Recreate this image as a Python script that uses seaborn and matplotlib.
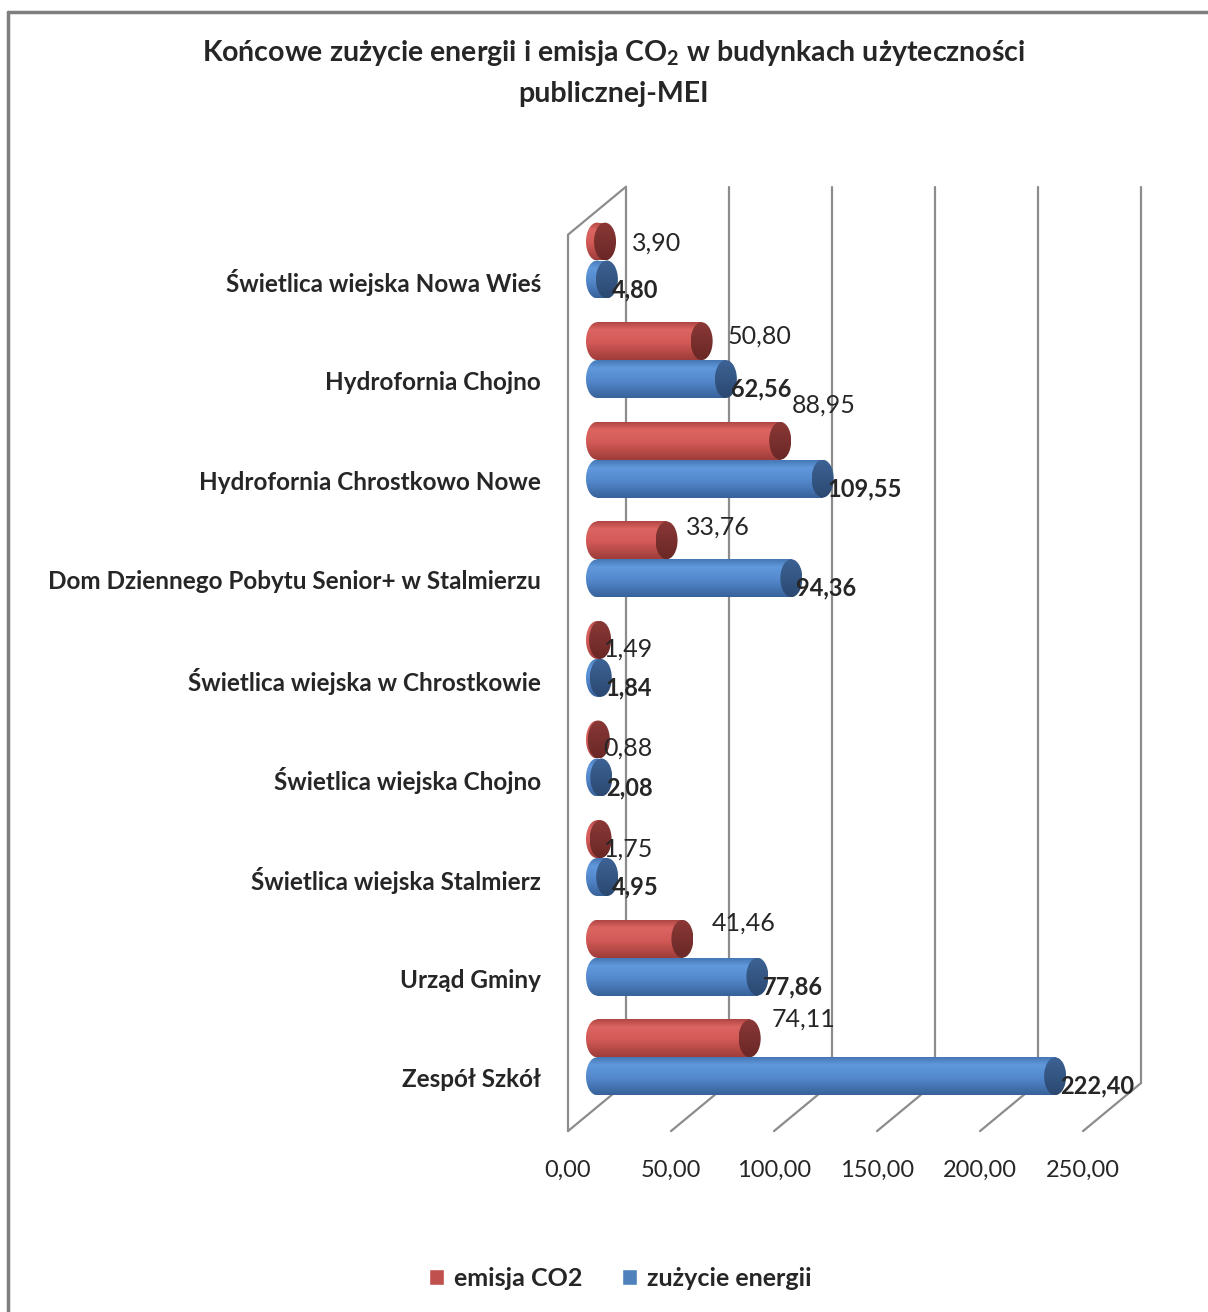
import numpy as np
import pandas as pd
import matplotlib
matplotlib.use('Agg')
import matplotlib.pyplot as plt
import seaborn as sns
from matplotlib.patches import Ellipse, Patch
from matplotlib.colors import LinearSegmentedColormap
from matplotlib.lines import Line2D

# dane
obiekty = ['Świetlica wiejska Nowa Wieś', 'Hydrofornia Chojno',
           'Hydrofornia Chrostkowo Nowe', 'Dom Dziennego Pobytu Senior+ w Stalmierzu',
           'Świetlica wiejska w Chrostkowie', 'Świetlica wiejska Chojno',
           'Świetlica wiejska Stalmierz', 'Urząd Gminy', 'Zespół Szkół']
emisja_co2 = [3.90, 50.80, 88.95, 33.76, 1.49, 0.88, 1.75, 41.46, 74.11]
zuzycie_energii = [4.80, 62.56, 109.55, 94.36, 1.84, 2.08, 4.95, 77.86, 222.40]
serie = ['emisja CO2', 'zużycie energii']
os_x = [0, 50, 100, 150, 200, 250]

df = pd.DataFrame({
    'obiekt': obiekty * 2,
    'seria': [serie[0]] * len(obiekty) + [serie[1]] * len(obiekty),
    'wartosc': emisja_co2 + zuzycie_energii,
})

def fmt(v):
    return f'{v:.2f}'.replace('.', ',')

sns.set_theme(style='white')
plt.rcParams['font.family'] = ['Lato', 'DejaVu Sans']
plt.rcParams['mathtext.fontset'] = 'custom'
plt.rcParams['mathtext.rm'] = 'Lato'
plt.rcParams['mathtext.bf'] = 'Lato:bold'

fig = plt.figure(figsize=(12.08, 13.12), dpi=100)
ax = fig.add_axes([540 / 1208, 1 - 1200 / 1312, 620 / 1208, 1050 / 1312])

sns.barplot(data=df, x='wartosc', y='obiekt', hue='seria', hue_order=serie,
            palette=['#C0504D', '#4F81BD'], orient='h', width=0.76,
            saturation=1, legend=False, errorbar=None, ax=ax)

# skala: px na jednostke
px_x = 2.06
px_y = 99.6
xlim = (-57 / px_x, 563 / px_x)
ylim = ((1200 - 260.5) / px_y, (150 - 260.5) / px_y)
dx = 29 / px_x   # pol glebokosci 3D
dy = 24 / px_y
cap_w = 22 / px_x
grid_c = '#8C8C8C'

# ramka 3D: tylna sciana, podloga, lewa sciana
top, floor = -0.5, len(obiekty) - 0.5
for g in os_x:
    ax.plot([g + dx, g + dx], [top - dy, floor - dy], color=grid_c, lw=1.6, zorder=0)
    ax.plot([g - dx, g + dx], [floor + dy, floor - dy], color=grid_c, lw=1.6, zorder=0)
    ax.annotate(fmt(g), xy=(g - dx, floor + dy), xytext=(0, -39),
                textcoords='offset pixels', ha='center', va='center', fontsize=17)
ax.plot([-dx, -dx], [top + dy, floor + dy], color=grid_c, lw=1.6, zorder=0)
ax.plot([-dx, dx], [top + dy, top - dy], color=grid_c, lw=1.6, zorder=0)

grad = np.linspace(0, 1, 64).reshape(-1, 1)
cm_body = {
    0: LinearSegmentedColormap.from_list('r', [(0, '#B04744'), (0.2, '#DC6562'), (0.55, '#D25956'), (1, '#9E3D3A')]),
    1: LinearSegmentedColormap.from_list('b', [(0, '#4677B5'), (0.2, '#6099DC'), (0.55, '#5388CC'), (1, '#38629A')]),
}
cm_cap = {
    0: LinearSegmentedColormap.from_list('rc', ['#8A3836', '#7A302E', '#6A2826']),
    1: LinearSegmentedColormap.from_list('bc', ['#3C6294', '#345683', '#2B4870']),
}

def shade(patch, cmap, z):
    x0, y0, x1, y1 = patch.get_extents().transformed(ax.transData.inverted()).extents
    im = ax.imshow(grad, cmap=cmap, extent=[x0, x1, max(y0, y1), min(y0, y1)],
                   aspect='auto', interpolation='bilinear', zorder=z)
    im.set_clip_path(patch)

red_dx = [27, 26, 12, 19, 4, 4, 3, 29, 22]
red_dy = [-2, 5, 36, 13, -9, -9, -10, 16, 19]

for s, cont in enumerate(ax.containers):
    for i, bar in enumerate(cont):
        v = bar.get_width()
        y0, h = bar.get_y(), bar.get_height()
        yc = y0 + h / 2
        z = 2 + s
        bar.set_facecolor('none')
        bar.set_edgecolor('none')
        left = Ellipse((0, yc), cap_w, h, facecolor='none', edgecolor='none', zorder=z)
        ax.add_patch(left)
        shade(left, cm_body[s], z)
        shade(bar, cm_body[s], z)
        cap = Ellipse((v, yc), cap_w, h, facecolor='none', edgecolor='none', zorder=z)
        ax.add_patch(cap)
        shade(cap, cm_cap[s], z + 0.1)
        if s == 0:
            ax.annotate(fmt(v), xy=(v, yc), xytext=(red_dx[i], red_dy[i]),
                        textcoords='offset pixels', ha='left', va='center',
                        fontsize=18, zorder=5)
        else:
            ax.annotate(fmt(v), xy=(v, yc), xytext=(5, -10),
                        textcoords='offset pixels', ha='left', va='center',
                        fontsize=17, fontweight='bold', zorder=5)

for i, name in enumerate(obiekty):
    ax.annotate(name, xy=(-dx, i), xytext=(-27, -22.5), textcoords='offset pixels',
                ha='right', va='center', fontsize=17.5, fontweight='bold')

ax.set_xlim(*xlim)
ax.set_ylim(*ylim)
ax.set_xticks([])
ax.set_yticks([])
ax.set_xlabel('')
ax.set_ylabel('')
sns.despine(ax=ax, left=True, bottom=True)

fig.text(614 / 1208, 1 - 53 / 1312,
         r'Końcowe zużycie energii i emisja CO$_\mathbf{2}$ w budynkach użyteczności',
         ha='center', va='center', fontsize=20.5, fontweight='bold')
fig.text(614 / 1208, 1 - 94 / 1312, 'publicznej-MEI',
         ha='center', va='center', fontsize=20.5, fontweight='bold')

handles = [Patch(facecolor='#C0504D', label=serie[0]),
           Patch(facecolor='#4F81BD', label=serie[1])]
fig.legend(handles=handles, loc='center', bbox_to_anchor=(620 / 1208, 1 - 1278 / 1312),
           ncol=2, frameon=False, handlelength=0.6, handleheight=0.6,
           handletextpad=0.4, columnspacing=1.6, prop={'weight': 'bold', 'size': 18})

fig.add_artist(Line2D([8 / 1208, 1], [1 - 12 / 1312, 1 - 12 / 1312], color='#7F7F7F', lw=2.5))
fig.add_artist(Line2D([8 / 1208, 8 / 1208], [0, 1 - 12 / 1312], color='#7F7F7F', lw=2.5))

fig.savefig('out.png', dpi=100)
